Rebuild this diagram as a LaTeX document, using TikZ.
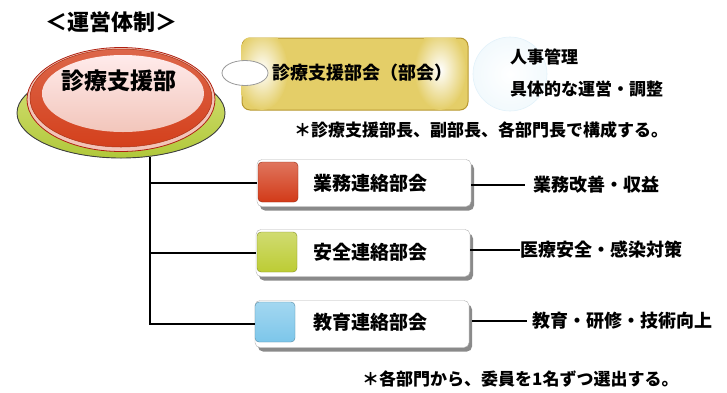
\documentclass[tikz,border=0pt]{standalone}
\usepackage{fontspec}
\setmainfont{Noto Sans CJK JP}
\usetikzlibrary{shadows,shapes.geometric}
\definecolor{rimred}{HTML}{D4401C}
\definecolor{rimdark}{HTML}{B02010}
\definecolor{rimpink}{HTML}{F2C4B8}
\definecolor{basegreen}{HTML}{B0C83A}
\definecolor{basegreenlt}{HTML}{D8E27A}
\definecolor{goldline}{HTML}{B89830}
\definecolor{goldfill}{HTML}{E4CE68}
\definecolor{iconred}{HTML}{D23A18}
\definecolor{icongreen}{HTML}{BCCC34}
\definecolor{iconblue}{HTML}{7CC6EA}
\definecolor{shadowgray}{HTML}{8A8A8A}
\tikzset{
  fs/.style={font=\bfseries\fontsize{#1}{#1}\selectfont},
  lab/.style={fs=18, inner sep=0pt, anchor=west},
  note/.style={fs=17, inner sep=0pt, anchor=west},
  unitbox/.style={draw=gray!60, fill=white, rounded corners=5pt, minimum width=214pt, minimum height=47pt,
    drop shadow={shadow xshift=3pt, shadow yshift=-4pt, fill=shadowgray, opacity=1}},
  iconbox/.style={draw=#1!70!black, rounded corners=4pt, minimum width=40pt, minimum height=40pt, inner sep=0pt,
    top color=#1!70!white, bottom color=#1},
  conn/.style={line width=1.6pt, black},
}
\begin{document}
\begin{tikzpicture}[x=1pt,y=-1pt]
\useasboundingbox (0,0) rectangle (727,392);

% title
\node[fs=22, inner sep=0pt] (title) at (111,22) {＜運営体制＞};

% main button
\fill[top color=basegreenlt, bottom color=basegreen, draw=black!75, line width=0.9pt] (121,113) ellipse (104 and 45);
\fill[rimpink, draw=rimdark, line width=0.8pt] (121,99.5) ellipse (94 and 52);
\shade[top color=rimred!80!white, bottom color=rimred, draw=rimred!80!black, line width=0.5pt] (121,98) ellipse (91 and 49);
\shade[top color=white!92!red, bottom color=rimred!30!white] (123,93.5) ellipse (81 and 38.5);
\node[fs=23, inner sep=0pt] (main) at (119,81) {診療支援部};
\coordinate (trunktop) at (150,157);

% council box
\node[draw=goldline, line width=1pt, rounded corners=8pt, minimum width=226pt, minimum height=72pt,
  fill=goldfill] (council) at (355,74) {};
\begin{scope}
  \clip[rounded corners=8pt] (council.south west) rectangle (council.north east);
  \shade[inner color=white, outer color=goldfill] (262,70) ellipse (26 and 40);
  \shade[inner color=white, outer color=goldfill] (440,70) ellipse (26 and 40);
\end{scope}
\node[fs=18, inner sep=0pt] (counciltext) at (362,73) {診療支援部会（部会）};
\node[draw=gray!80, fill=white, ellipse, minimum width=46pt, minimum height=25pt, inner sep=0pt, line width=0.8pt] (link) at (245,73) {};
\shade[inner color=white, outer color=iconblue!10, draw=iconblue!22, line width=0.6pt] (510,74) circle (37);
\node[lab, fs=17] (duty1) at (510,57) {人事管理};
\node[lab, fs=17] (duty2) at (510,89) {具体的な運営・調整};
\node[note] (note1) at (294,130) {＊診療支援部長、副部長、各部門長で構成する。};

% unit boxes
\node[unitbox] (box1) at (364,183) {};
\node[unitbox] (box2) at (363,253) {};
\node[unitbox] (box3) at (362,324) {};
\node[iconbox=iconred] (icon1) at (278,182) {};
\node[iconbox=icongreen] (icon2) at (277,252) {};
\node[iconbox=iconblue] (icon3) at (275,322) {};
\node[fs=19, inner sep=0pt] (t1) at (370,183) {業務連絡部会};
\node[fs=19, inner sep=0pt] (t2) at (370,252) {安全連絡部会};
\node[fs=19, inner sep=0pt] (t3) at (370,322) {教育連絡部会};

% tree connectors
\draw[conn] (trunktop) |- (box3.west);
\draw[conn] (box1.west -| trunktop) -- (box1.west);
\draw[conn] (box2.west -| trunktop) -- (box2.west);

% right labels
\node[lab] (r1) at (533,185) {業務改善・収益};
\node[lab] (r2) at (520,250) {医療安全・感染対策};
\node[lab] (r3) at (532,321) {教育・研修・技術向上};
\draw[conn] (box1.east |- r1.west) -- ([xshift=-8pt]r1.west);
\draw[conn] (box2.east |- r2.west) -- (r2.west);
\draw[conn] (box3.east |- r3.west) ++(3,0) -- ([xshift=-5pt]r3.west);

\node[note] (note2) at (362,379) {＊各部門から、委員を1名ずつ選出する。};
\end{tikzpicture}
\end{document}
